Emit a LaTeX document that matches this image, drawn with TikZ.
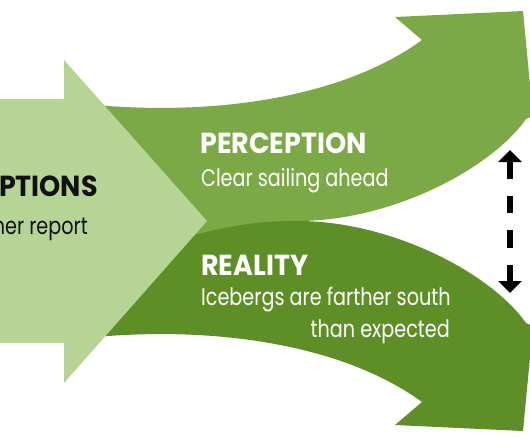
\documentclass[tikz,border=0pt]{standalone}
\usepackage{fontspec}
\setmainfont{Poppins}
\newfontfamily\signfont[FakeStretch=0.80]{Poppins}
\newfontfamily\headfont[FakeStretch=0.93]{Poppins}
\usetikzlibrary{arrows.meta}
\definecolor{ArrowLight}{HTML}{B6D595}
\definecolor{ArrowMid}{HTML}{7BA946}
\definecolor{ArrowDark}{HTML}{5E8F26}
\definecolor{InkBlack}{HTML}{111111}

\begin{document}
\begin{tikzpicture}[x=1pt, y=-1pt,
    title/.style={inner sep=0pt, font=\headfont\bfseries\fontsize{29}{32}\selectfont},
    body/.style={inner sep=0pt, font=\signfont\fontsize{24}{27}\selectfont},
    updown/.style={line width=6.5pt, dash pattern=on 17.3pt off 17.3pt,
      {Triangle[length=12pt,width=23pt]}-{Triangle[length=12pt,width=23pt]}}
  ]
  \useasboundingbox (0,0) rectangle (530,442);
  \clip (0,0) rectangle (530,442);
  % perception arrow (top)
  \fill[ArrowMid] (60,101) .. controls (200,120) and (340,100) .. (422,40) -- (395,17)
    -- (523,11) -- (533,116) -- (526,119) .. controls (490,170) and (390,221) .. (298,221)
    -- (298,262) -- (60,262) -- cycle;
  % reality arrow (bottom)
  \fill[ArrowDark] (60,341) .. controls (200,322) and (340,342) .. (422,402) -- (395,425)
    -- (523,431) -- (533,326) -- (526,323) .. controls (490,272) and (390,221) .. (298,221)
    .. controls (250,221) and (222,228) .. (190,236) -- (60,256) -- cycle;
  % assumptions arrow
  \fill[ArrowLight] (-5,99) -- (64,99) -- (64,60) -- (207,221) -- (64,383) -- (64,343)
    -- (-5,343) -- cycle;
  \node[title, text=InkBlack, anchor=base east] (assumptions) at (98,196) {PTIONS};
  \node[body, text=InkBlack, anchor=base east] (weather) at (88,234) {her report};
  \node[title, text=white, anchor=base west] (perception) at (200,153) {PERCEPTION};
  \node[body, text=white, anchor=base west] (clear) at (201,186) {Clear sailing ahead};
  \node[title, text=white, anchor=base west] (reality) at (201,275) {REALITY};
  \node[body, text=white, anchor=base west] (icebergs) at (201,305) {Icebergs are farther south};
  \node[body, text=white, anchor=base east] (expected) at (450,337) {than expected};
  \coordinate (up) at (510,150);
  \coordinate (down) at (510,293);
  \draw[updown] (up) -- (down);
\end{tikzpicture}
\end{document}
